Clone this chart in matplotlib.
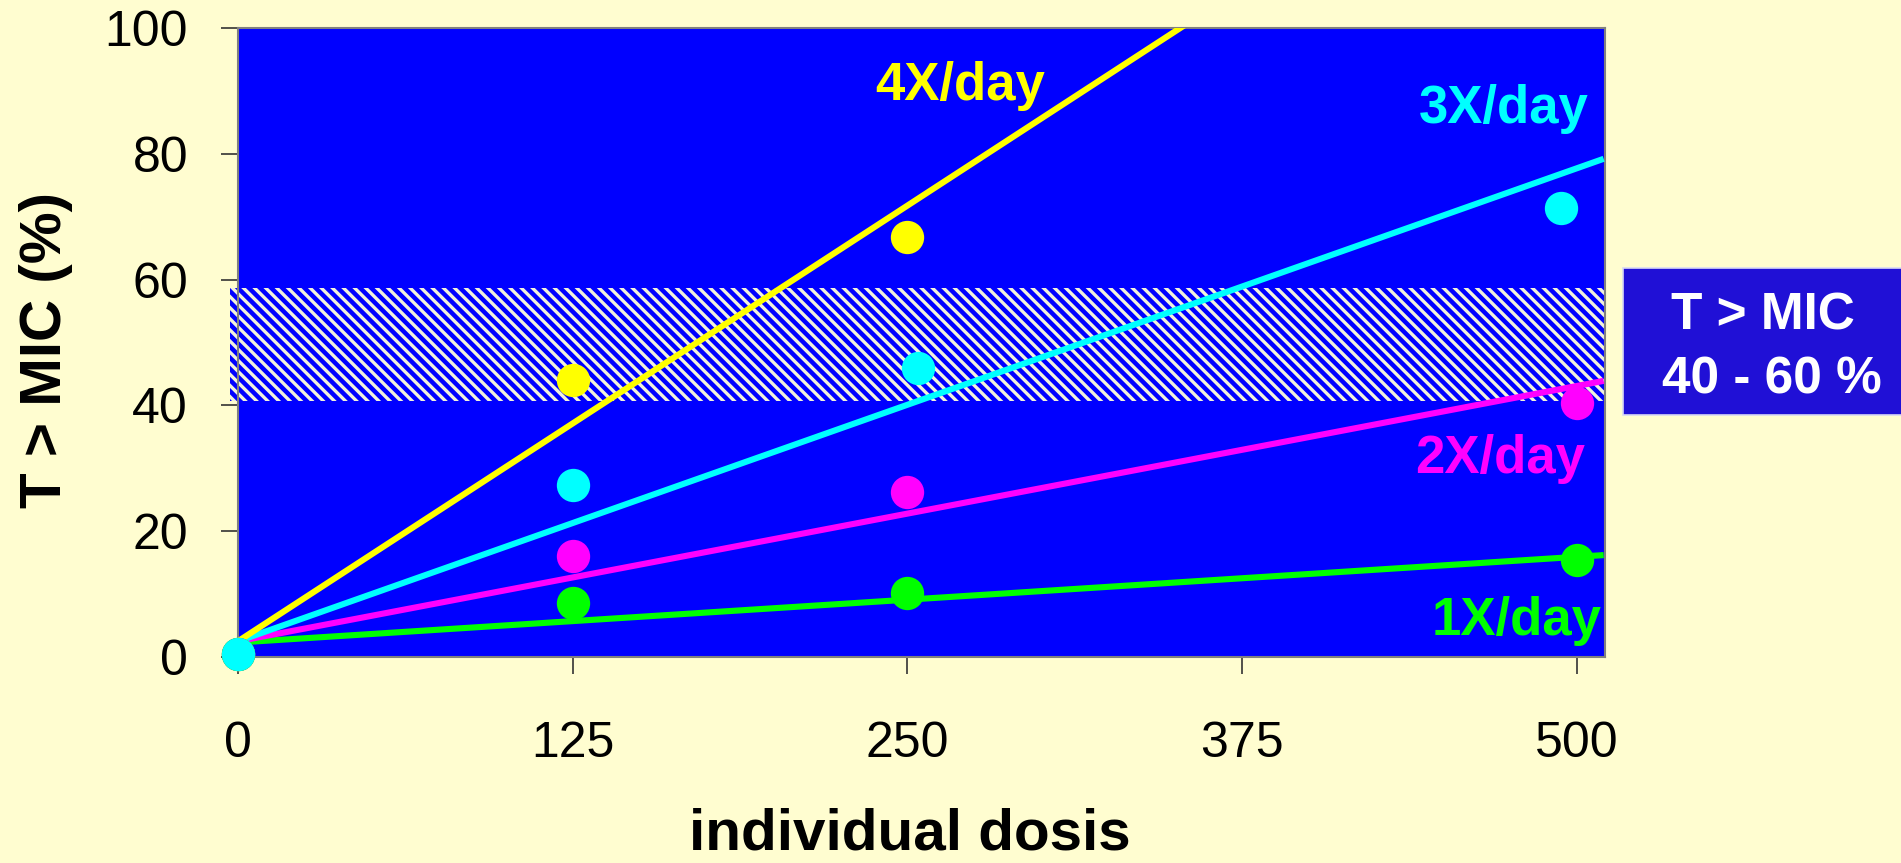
#!/usr/bin/env python3
# -*- coding: utf-8 -*-
"""
T > MIC (%) versus individual dose, for 1x..4x daily dosing
"""

import matplotlib
matplotlib.use('Agg')
import matplotlib.pyplot as plt
from matplotlib.patches import Rectangle

plt.rcParams['font.family'] = ['Liberation Sans', 'DejaVu Sans']
plt.rcParams['hatch.linewidth'] = 2.4

# data
dose_ticks = [0, 125, 250, 375, 500]
percent_ticks = [0, 20, 40, 60, 80, 100]

series_names = ['1X/day', '2X/day', '3X/day', '4X/day']
series_colors = ['#00FF00', '#FF00FF', '#00FFFF', '#FFFF00']

# measured points
once_x = [0, 125, 250, 500]
once_y = [0.5, 8.6, 10.2, 15.4]
twice_x = [0, 125, 250, 500]
twice_y = [0.5, 16.0, 26.2, 40.3]
three_x = [0, 125, 254, 494]
three_y = [0.5, 27.4, 46.0, 71.3]
four_x = [0, 125, 250]
four_y = [0.5, 44.0, 66.7]

# trend lines (value at dose 0 and at dose 510)
trend_x = [0, 510]
once_trend = [2.3, 16.2]
twice_trend = [2.5, 43.9]
three_trend = [2.5, 79.2]
four_trend = [2.5, 143.8]

# target window
band_low = 40.7
band_high = 58.7

BG = '#FFFDD0'
PLOT_BG = '#0000FF'


def create_chart():
    fig = plt.figure(figsize=(19.01, 8.63), dpi=100, facecolor=BG)
    ax = fig.add_axes([0.1252, 0.2387, 0.7191, 0.7289], facecolor=PLOT_BG)

    ax.set_xlim(0, 510.5)
    ax.set_ylim(0, 100)

    # hatched 40-60 % band
    band = Rectangle((-3, band_low), 513.5, band_high - band_low,
                     facecolor=PLOT_BG, edgecolor='#F2F2DC', lw=0,
                     hatch='\\\\\\', clip_on=False, zorder=1)
    ax.add_patch(band)

    points = [(once_x, once_y), (twice_x, twice_y), (three_x, three_y), (four_x, four_y)]
    trends = [once_trend, twice_trend, three_trend, four_trend]

    for trend, color in zip(trends, series_colors):
        ax.plot(trend_x, trend, color=color, lw=4.4, solid_capstyle='butt', zorder=3)

    # draw cyan last so it sits on top at the origin
    for i in [3, 1, 0, 2]:
        px, py = points[i]
        ax.plot(px, py, 'o', color=series_colors[i], markersize=24,
                markeredgewidth=0, clip_on=False, zorder=5)

    # series labels
    label_kw = dict(fontsize=38, fontweight='bold', va='baseline', zorder=6)
    ax.text(237.9, 88.6, '4X/day', color='#FFFF00', ha='left', **label_kw)
    ax.text(504.5, 84.9, '3X/day', color='#00FFFF', ha='right', **label_kw)
    ax.text(503, 29.3, '2X/day', color='#FF00FF', ha='right', **label_kw)
    ax.text(509.3, 3.5, '1X/day', color='#00FF00', ha='right', **label_kw)

    ax.set_xticks(dose_ticks)
    ax.set_yticks(percent_ticks)
    ax.tick_params(axis='both', labelsize=36, direction='out', length=12,
                   width=1.2, color='#333333', labelcolor='black')
    ax.tick_params(axis='x', pad=34)
    ax.tick_params(axis='y', pad=24)
    for side in ax.spines.values():
        side.set_color('#808080')
        side.set_linewidth(1.5)

    fig.text(46 / 1901, 1 - 350 / 863, 'T > MIC (%)', rotation=90, fontsize=42,
             fontweight='bold', ha='center', va='center')
    fig.text(910 / 1901, 2 / 863, 'individual dosis', fontsize=42,
             fontweight='bold', ha='center', va='bottom')

    # side box
    box = Rectangle((1623 / 1901, 1 - 415 / 863), 0.16, 147 / 863,
                    transform=fig.transFigure, facecolor='#2010D6',
                    edgecolor='#D8D8F4', lw=1.2)
    fig.patches.append(box)
    fig.text(1763 / 1901, 1 - 330 / 863, 'T > MIC', color='white', fontsize=37,
             fontweight='bold', ha='center', va='baseline')
    fig.text(1772 / 1901, 1 - 393 / 863, '40 - 60 %', color='white', fontsize=37,
             fontweight='bold', ha='center', va='baseline')

    fig.savefig('out.png', dpi=100, facecolor=BG)
    return True


if __name__ == '__main__':
    print('create ', create_chart())
